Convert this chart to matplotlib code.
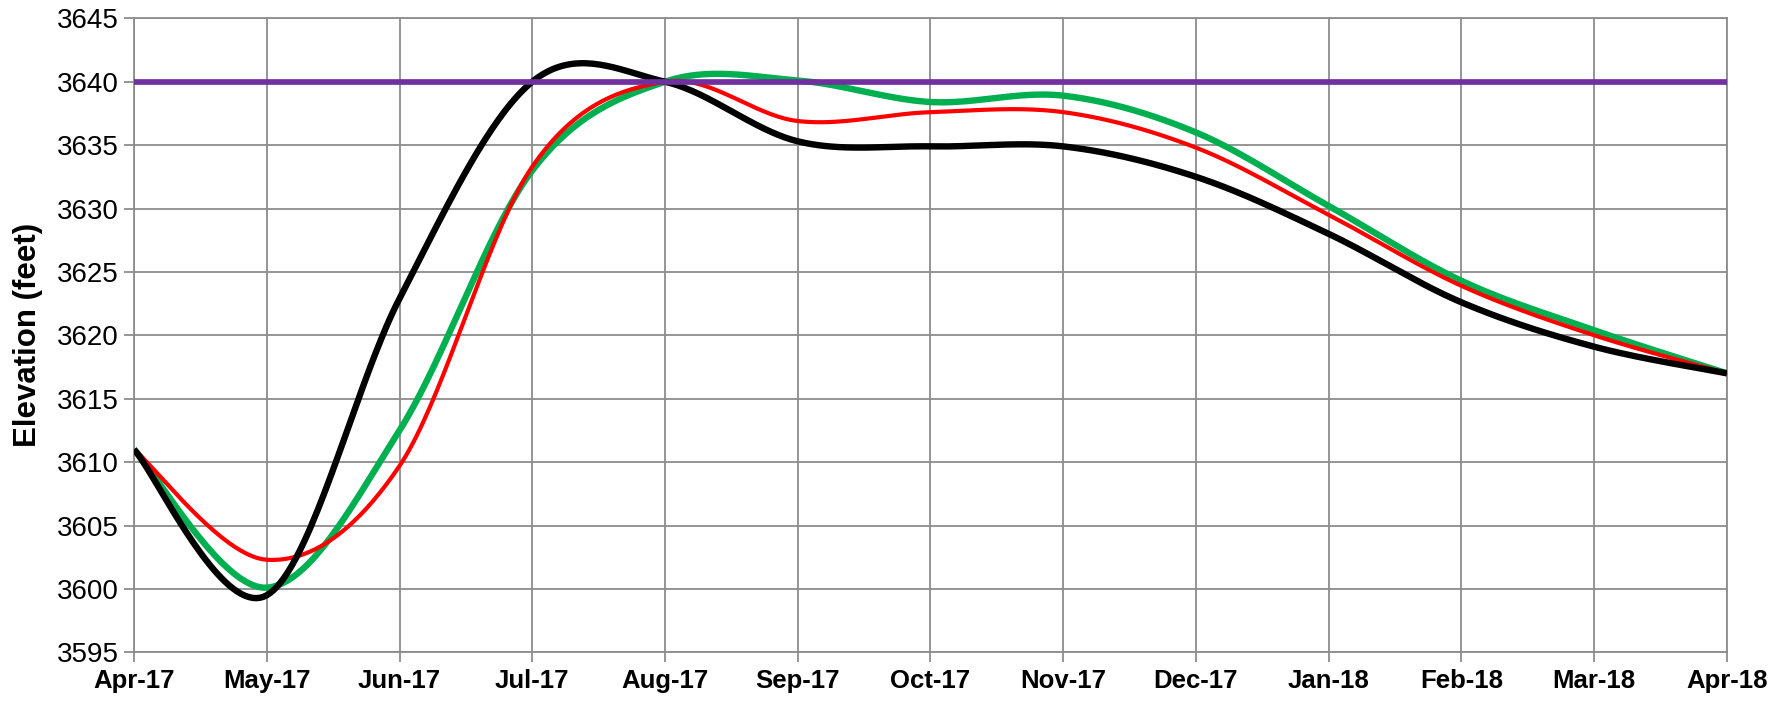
import matplotlib
matplotlib.use("Agg")

import matplotlib.pyplot as plt
import numpy as np

months = ["Apr-17", "May-17", "Jun-17", "Jul-17", "Aug-17", "Sep-17", "Oct-17",
          "Nov-17", "Dec-17", "Jan-18", "Feb-18", "Mar-18", "Apr-18"]

black = [3611.0, 3599.5, 3622.9, 3640.0, 3640.0, 3635.3, 3634.9,
         3634.9, 3632.5, 3628.0, 3622.6, 3619.1, 3617.0]
red = [3611.0, 3602.3, 3609.7, 3633.3, 3640.0, 3636.9, 3637.6,
       3637.6, 3634.8, 3629.5, 3623.9, 3620.0, 3617.0]
green = [3611.0, 3600.1, 3612.5, 3633.0, 3640.0, 3640.1, 3638.4,
         3638.9, 3636.0, 3630.2, 3624.3, 3620.4, 3617.0]
purple = [3640.0] * 13

yticks = list(range(3595, 3646, 5))


def smooth(xs, ys, n=40):
    # Excel-style smoothed line: cubic Bezier with control points at 1/6
    # of the neighbour difference (same as Catmull-Rom)
    p = np.column_stack([xs, ys]).astype(float)
    p = np.vstack([p[0], p, p[-1]])
    out = []
    t = np.linspace(0, 1, n)[:, None]
    for i in range(1, len(p) - 2):
        p0, p3 = p[i], p[i + 1]
        c1 = p0 + (p[i + 1] - p[i - 1]) / 6
        c2 = p3 - (p[i + 2] - p[i]) / 6
        seg = ((1 - t) ** 3 * p0 + 3 * (1 - t) ** 2 * t * c1
               + 3 * (1 - t) * t ** 2 * c2 + t ** 3 * p3)
        out.append(seg if i == 1 else seg[1:])
    out = np.vstack(out)
    return out[:, 0], out[:, 1]


plt.rcParams["font.family"] = ["Liberation Sans", "DejaVu Sans"]

fig = plt.figure(figsize=(17.87, 7.02), dpi=100)
ax = fig.add_axes([0.075, 0.0708, 0.8914, 0.9031])

x = np.arange(len(months))
grid_color = "#8c8c8c"

for series, color, lw in [(green, "#00B050", 4.6), (red, "#FF0000", 3.0),
                          (black, "#000000", 4.6), (purple, "#7030A0", 4.1)]:
    sx, sy = smooth(x, series)
    ax.plot(sx, sy, color=color, lw=lw, solid_capstyle="butt", zorder=3)

ax.set_xlim(0, len(months) - 1)
ax.set_ylim(3595, 3645)
ax.set_xticks(x)
ax.set_xticklabels(months, fontsize=18.5, fontweight="bold")
ax.set_yticks(yticks)
ax.set_yticklabels([str(v) for v in yticks], fontsize=20)
ax.set_ylabel("Elevation (feet)", fontsize=22.5, fontweight="bold")
ax.yaxis.set_label_coords(-0.057, 0.5)

ax.grid(True, color=grid_color, lw=1.3)
ax.set_axisbelow(True)
for s in ax.spines.values():
    s.set_color(grid_color)
    s.set_linewidth(1.3)
ax.tick_params(axis="both", direction="out", length=7, width=1.3,
               color=grid_color)
ax.tick_params(axis="x", pad=5)
ax.tick_params(axis="y", pad=4)

fig.savefig("out.png", dpi=100)
